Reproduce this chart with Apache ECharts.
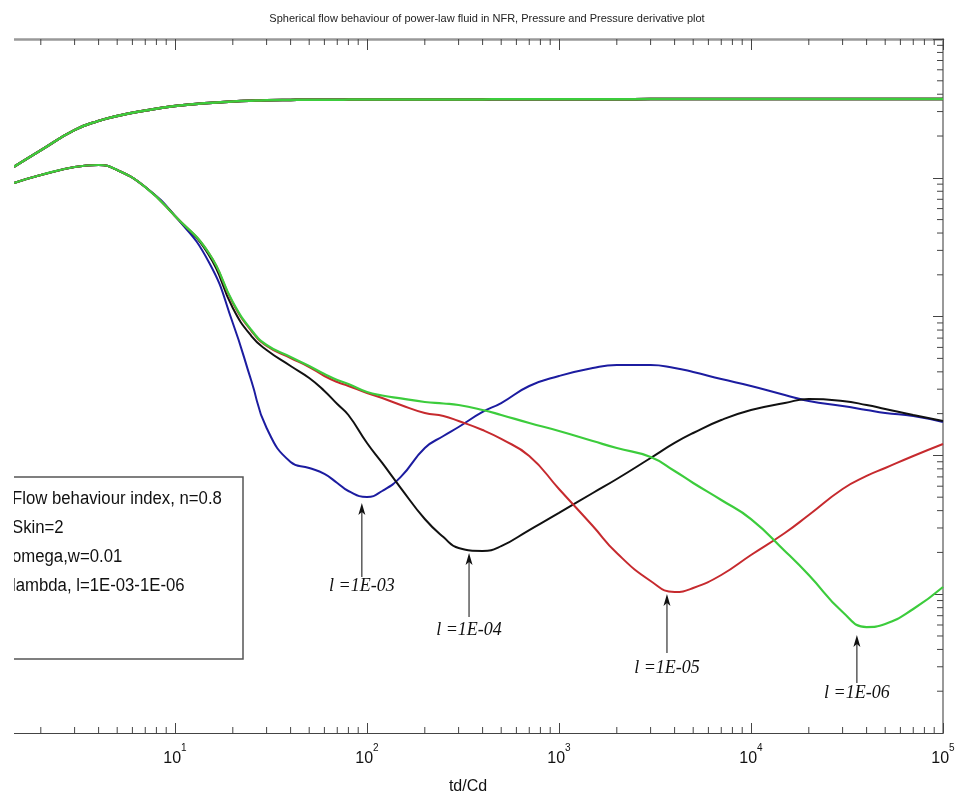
<!DOCTYPE html>
<html><head><meta charset="utf-8">
<script src="https://cdn.jsdelivr.net/npm/echarts@6/dist/echarts.min.js"></script>
<style>html,body{margin:0;padding:0;background:#fff}#c{width:974px;height:805px}</style>
</head><body><div id="c"></div>
<script>
const titleText = 'Spherical flow behaviour of power-law fluid in NFR, Pressure and Pressure derivative plot';
const xName = 'td/Cd';
const td = [1.45,2,3,4,5,7,10,15,20,25,30,40,50,60,70,80,100,120,150,200,250,300,400,500,700,1000,1500,2000,3000,4000,5000,7000,10000,15000,20000,30000,40000,50000,70000,100000];
const pressure = [12.0,15.8,22.1,25.7,27.9,30.5,32.9,34.6,35.4,35.9,36.2,36.4,36.5,36.5,36.5,36.6,36.6,36.6,36.6,36.7,36.7,36.7,36.7,36.8,36.8,36.8,36.8,36.8,36.9,36.9,36.9,36.9,36.9,37.0,37.0,37.0,37.0,37.0,37.0,37.0];
const derivL3 = [9.17,10.47,11.96,12.37,11.38,8.58,5.31,2.474,0.899,0.3436,0.1575,0.0896,0.0811,0.0735,0.0633,0.0554,0.0502,0.0554,0.070,0.1130,0.1380,0.1602,0.2055,0.2385,0.3162,0.3733,0.4263,0.4479,0.4479,0.4263,0.3990,0.3552,0.3162,0.2724,0.2466,0.2269,0.2124,0.2020,0.1922,0.1740];
const derivL4 = [9.17,10.47,11.96,12.37,11.38,8.58,5.31,2.779,1.153,0.7247,0.5745,0.4406,0.3611,0.2911,0.2346,0.1955,0.1229,0.0882,0.0582,0.0348,0.0258,0.0215,0.0205,0.0222,0.0290,0.0385,0.0536,0.0676,0.0958,0.1229,0.1450,0.1799,0.2124,0.2385,0.2549,0.2466,0.2307,0.2160,0.1955,0.1770];
const derivL5 = [9.17,10.47,11.96,12.37,11.38,8.58,5.31,2.872,1.253,0.7874,0.6141,0.5031,0.4334,0.3733,0.3379,0.3162,0.2815,0.2592,0.2307,0.2020,0.1922,0.1770,0.1524,0.1313,0.0990,0.0573,0.0310,0.0198,0.01245,0.01037,0.01108,0.01375,0.01916,0.0276,0.03721,0.0573,0.0711,0.0811,0.0990,0.1208];
const derivL6 = [9.17,10.47,11.96,12.37,11.38,8.58,5.31,2.872,1.274,0.8007,0.6243,0.5116,0.4406,0.3859,0.3493,0.3269,0.2862,0.2701,0.2575,0.2425,0.2366,0.2307,0.2124,0.1955,0.1711,0.1499,0.1270,0.1130,0.0974,0.0772,0.0633,0.0477,0.0348,0.0205,0.01375,0.00744,0.00580,0.00610,0.00782,0.01127];
const xMinorTicks = [2,3,4,5,6,7,8,9,20,30,40,50,60,70,80,90,200,300,400,500,600,700,800,900,2000,3000,4000,5000,6000,7000,8000,9000,20000,30000,40000,50000,60000,70000,80000,90000];
const yMinorTicks = [0.002,0.003,0.004,0.005,0.006,0.007,0.008,0.009,0.02,0.03,0.04,0.05,0.06,0.07,0.08,0.09,0.2,0.3,0.4,0.5,0.6,0.7,0.8,0.9,2,3,4,5,6,7,8,9,20,30,40,50,60,70,80,90];
const annText = ['l =1E-03','l =1E-04','l =1E-05','l =1E-06'];
const annX = [94, 340, 3650, 35600];
const annTip = [0.0454, 0.0198, 0.01003, 0.00508];
const annEnd = [0.0133, 0.00685, 0.00377, 0.00229];
const annLabel = [0.01146, 0.00552, 0.00294, 0.00194];
const infoLines = ['Flow behaviour index, n=0.8','Skin=2','omega,w=0.01','lambda, l=1E-03-1E-06'];

const colors = {L3:'#1c1ca0', L4:'#111111', L5:'#c62a2e', L6:'#3ccc3c'};
const pairs = arr => td.map((t,i)=>[t, arr[i]]);

function lineSeries(name, arr, color, width){
  return {name, type:'line', data:pairs(arr), showSymbol:false, symbol:'none', smooth:0.5,
    lineStyle:{color, width}, itemStyle:{color}, xAxisIndex:0, yAxisIndex:0, z:3};
}

const chart = echarts.init(document.getElementById('c'), null, {renderer:'canvas'});
const option = {
  backgroundColor:'#fff',
  animation:false,
  title:{text:titleText, left:'center', top:8, textStyle:{fontSize:11, fontWeight:'normal', color:'#222', fontFamily:'Liberation Sans'}},
  grid:{left:-17, right:31, top:39, bottom:72, outerBoundsMode:'none', containLabel:false},
  xAxis:[
    {type:'log', logBase:10, min:1, max:100000, position:'bottom',
     axisLine:{show:true, lineStyle:{color:'#444', width:1.2}},
     axisTick:{show:true, inside:true, length:10, lineStyle:{color:'#444'}},
     splitLine:{show:false},
     axisLabel:{margin:10, showMinLabel:false, formatter:v=>'{b|10}{s|'+Math.round(Math.log10(v))+'}',
       rich:{b:{fontSize:16, fontFamily:'Liberation Sans', color:'#111', lineHeight:24, verticalAlign:'bottom'},
             s:{fontSize:10, fontFamily:'Liberation Sans', color:'#111', lineHeight:10, verticalAlign:'top'}}},
     name:xName, nameLocation:'middle', nameGap:46,
     nameTextStyle:{fontSize:16, color:'#111', fontFamily:'Liberation Sans', padding:[0,0,0,10]}},
    {type:'log', logBase:10, min:1, max:100000, position:'top',
     axisLine:{show:true, lineStyle:{color:'#999', width:2.5}},
     axisTick:{show:true, inside:true, length:11, lineStyle:{color:'#444'}},
     splitLine:{show:false}, axisLabel:{show:false}}
  ],
  yAxis:{type:'log', logBase:10, min:0.001, max:100, position:'right',
    axisLine:{show:true, lineStyle:{color:'#999', width:2}},
    axisTick:{show:true, inside:true, length:10, lineStyle:{color:'#444'}},
    axisLabel:{show:false}, splitLine:{show:false}},
  series:[
    lineSeries('p1E-03', pressure, colors.L3, 2.5),
    lineSeries('p1E-04', pressure, colors.L4, 2.5),
    lineSeries('p1E-05', pressure, colors.L5, 2.5),
    lineSeries('p1E-06', pressure, colors.L6, 2.5),
    lineSeries('d1E-03', derivL3, colors.L3, 2),
    lineSeries('d1E-04', derivL4, colors.L4, 2),
    lineSeries('d1E-05', derivL5, colors.L5, 2),
    lineSeries('d1E-06', derivL6, colors.L6, 2.2),
    {type:'custom', name:'xminor', xAxisIndex:0, yAxisIndex:0, clip:false, z:4,
     data:xMinorTicks.map(v=>[v,1]), encode:{x:0,y:1},
     renderItem:(params, api)=>{
       const cs = params.coordSys; const px = api.coord([api.value(0),1])[0];
       const st = {stroke:'#444', lineWidth:1};
       return {type:'group', children:[
         {type:'line', shape:{x1:px,y1:cs.y,x2:px,y2:cs.y+6}, style:st},
         {type:'line', shape:{x1:px,y1:cs.y+cs.height,x2:px,y2:cs.y+cs.height-6}, style:st}]};
     }},
    {type:'custom', name:'yminor', xAxisIndex:0, yAxisIndex:0, clip:false, z:4,
     data:yMinorTicks.map(v=>[100000,v]), encode:{x:0,y:1},
     renderItem:(params, api)=>{
       const cs = params.coordSys; const py = api.coord([100000, api.value(1)])[1];
       const rx = cs.x + cs.width;
       return {type:'line', shape:{x1:rx,y1:py,x2:rx-6,y2:py}, style:{stroke:'#444', lineWidth:1}};
     }},
    {type:'custom', name:'annotations', xAxisIndex:0, yAxisIndex:0, clip:false, z:5,
     data:annX.map((x,i)=>[x, annTip[i], annEnd[i], annLabel[i], i]), encode:{x:0,y:1},
     renderItem:(params, api)=>{
       const x = api.value(0);
       const tip = api.coord([x, api.value(1)]);
       const end = api.coord([x, api.value(2)]);
       const lab = api.coord([x, api.value(3)]);
       const i = api.value(4);
       return {type:'group', children:[
         {type:'line', shape:{x1:tip[0], y1:tip[1]+8, x2:end[0], y2:end[1]}, style:{stroke:'#333', lineWidth:1.2}},
         {type:'polygon', shape:{points:[[tip[0],tip[1]],[tip[0]-3.5,tip[1]+12],[tip[0],tip[1]+9],[tip[0]+3.5,tip[1]+12]]}, style:{fill:'#111'}},
         {type:'text', x:lab[0], y:lab[1], style:{text:annText[i], fill:'#111', align:'center', verticalAlign:'middle',
           font:'italic 18px "Liberation Serif", serif'}}
       ]};
     }}
  ],
  graphic:[
    {type:'rect', z:50, shape:{x:-5, y:477, width:248, height:182}, style:{fill:'#fff', stroke:'#555', lineWidth:1.5}},
    ...infoLines.map((t,i)=>({type:'text', z:51, x:12, y:499+i*29, scaleX:0.93,
       style:{text:t, fill:'#111', font:'18px "Liberation Sans", Arial, sans-serif', verticalAlign:'middle', align:'left'}})),
    {type:'rect', z:100, shape:{x:0, y:0, width:14, height:805}, style:{fill:'#fff'}}
  ]
};
chart.setOption(option);
</script>
</body></html>
